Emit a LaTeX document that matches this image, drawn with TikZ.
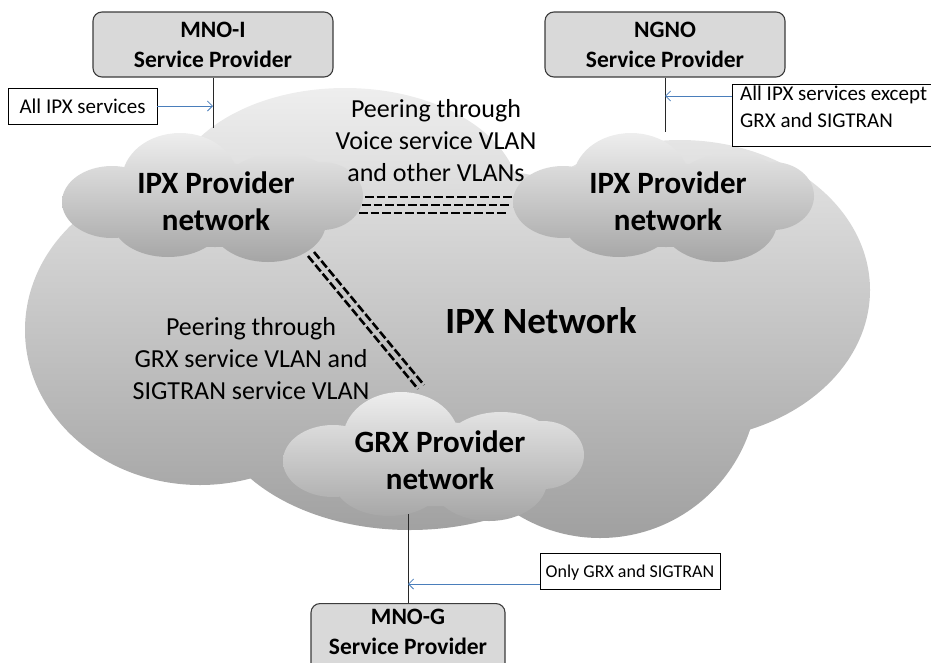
\documentclass[tikz,border=0pt]{standalone}
\usepackage{fontspec}
\setmainfont{Carlito}
\usetikzlibrary{arrows.meta}
\definecolor{boxgray}{RGB}{217,217,217}
\definecolor{boxline}{RGB}{60,60,60}
\definecolor{arrblue}{RGB}{74,126,187}
\definecolor{cloudtop}{RGB}{238,238,238}
\definecolor{cloudmid}{RGB}{214,214,214}
\definecolor{cloudbot}{RGB}{160,160,160}
\definecolor{scloudtop}{RGB}{238,238,238}
\definecolor{scloudbot}{RGB}{165,165,165}
\definecolor{connline}{RGB}{40,40,40}
\begin{document}
\begin{tikzpicture}[x=1pt,y=-1pt,
  spbox/.style={draw=boxline, fill=boxgray, rounded corners=9pt, line width=1.1pt, inner sep=0pt},
  sptxt/.style={align=center, font=\bfseries\fontsize{23.5}{30}\selectfont, inner sep=0pt},
  lbox/.style={draw=black, fill=white, line width=0.8pt, inner sep=0pt},
  lbl/.style={font=\fontsize{21}{27}\selectfont, inner sep=0pt},
  conn/.style={draw=connline, line width=0.8pt},
  arr/.style={draw=arrblue, line width=0.8pt, -{Straight Barb[length=5pt,width=10pt]}},
  peer/.style={draw=black, line width=2.6pt, dash pattern=on 8.5pt off 3pt},
  cloudtxt/.style={font=\bfseries\fontsize{31}{37}\selectfont, align=center, inner sep=0pt},
  peertxt/.style={font=\fontsize{26}{32}\selectfont, align=center, inner sep=0pt},
  smallcloud/.pic={
    \shade[top color=scloudtop, bottom color=scloudbot]
      (-103,-3) ellipse [x radius=50, y radius=36]
      (-35,-25) ellipse [x radius=58, y radius=47]
      (65,-9) ellipse [x radius=62, y radius=43]
      (107,-9) ellipse [x radius=41, y radius=34]
      (53,17) ellipse [x radius=58, y radius=40]
      (-47,17) ellipse [x radius=55, y radius=35]
      (0,0) ellipse [x radius=110, y radius=42];
  }]
\useasboundingbox (0,0) rectangle (931,662);
\clip (0,0) rectangle (931,662);

% big IPX network cloud
\shade[top color=cloudtop, middle color=cloudmid, bottom color=cloudbot]
  (200,330) ellipse [x radius=175, y radius=155]
  (345,200) ellipse [x radius=175, y radius=112]
  (680,290) ellipse [x radius=190, y radius=150]
  (600,380) circle [radius=158]
  (410,400) ellipse [x radius=200, y radius=130]
  (480,320) ellipse [x radius=200, y radius=150];

% provider clouds
\pic (cl1) at (215,205) {smallcloud};
\pic (cl2) at (666,205) {smallcloud};
\pic (cl3) at (436,464) {smallcloud};

% peering links
\coordinate (h1a) at (365,197); \coordinate (h1b) at (513,197);
\coordinate (h2a) at (362,205); \coordinate (h2b) at (510,205);
\coordinate (h3a) at (359,213); \coordinate (h3b) at (507,213);
\draw[peer] (h1a) -- (h1b);
\draw[peer] (h2a) -- (h2b);
\draw[peer] (h3a) -- (h3b);
\coordinate (d1a) at (314,252); \coordinate (d1b) at (424,385);
\coordinate (d2a) at (308,256); \coordinate (d2b) at (418,389);
\draw[peer] (d1a) -- (d1b);
\draw[peer] (d2a) -- (d2b);

% texts
\node[cloudtxt] (c1t) at (216,201) {IPX Provider\\network};
\node[cloudtxt] (c2t) at (668,201) {IPX Provider\\network};
\node[cloudtxt] (c3t) at (440,460) {GRX Provider\\network};
\node[font=\bfseries\fontsize{37}{44}\selectfont, anchor=base, inner sep=0pt] (ipx) at (541,333) {IPX Network};
\node[peertxt] (p1) at (436,141) {Peering through\\Voice service VLAN\\and other VLANs};
\node[peertxt] (p2) at (251,359) {Peering through\\GRX service VLAN and\\SIGTRAN service VLAN};

% service providers
\node[spbox, sptxt, minimum width=240pt, minimum height=65pt] (mnoi) at (213,44.5) {MNO-I\\Service Provider};
\node[spbox, sptxt, minimum width=240pt, minimum height=65pt] (ngno) at (665,44.5) {NGNO\\Service Provider};
\node[spbox, minimum width=194pt, minimum height=72pt, anchor=north] (mnog) at (408,603) {};
\node[sptxt] (mnogt) at (408,632) {MNO-G\\Service Provider};

% label boxes
\node[lbox, lbl, minimum width=149pt, minimum height=36pt] (l1) at (82.5,106) {All IPX services};
\node[lbox, minimum width=210pt, minimum height=62pt, anchor=north west] (l2) at (732,84) {};
\node[lbl, align=left, anchor=north west] (l2t) at (740,86) {All IPX services except\\GRX and SIGTRAN};
\node[lbox, font=\fontsize{18}{21}\selectfont, inner sep=0pt, minimum width=180pt, minimum height=36pt, text depth=0pt] (l3) at (630,571) {Only GRX and SIGTRAN};

% connectors
\coordinate (e1) at (213,128);
\draw[conn] (mnoi.south) -- (e1);
\draw[arr] (l1.east) -- (l1.east -| e1);
\coordinate (e2) at (665,132);
\draw[conn] (ngno.south) -- (e2);
\coordinate (a2) at (732,96);
\draw[arr] (a2) -- (a2 -| e2);
\coordinate (e3) at (408,514);
\draw[conn] (e3) -- (mnog.north);
\coordinate (a3) at (540,584);
\draw[arr] (a3) -- (a3 -| e3);
\end{tikzpicture}
\end{document}
